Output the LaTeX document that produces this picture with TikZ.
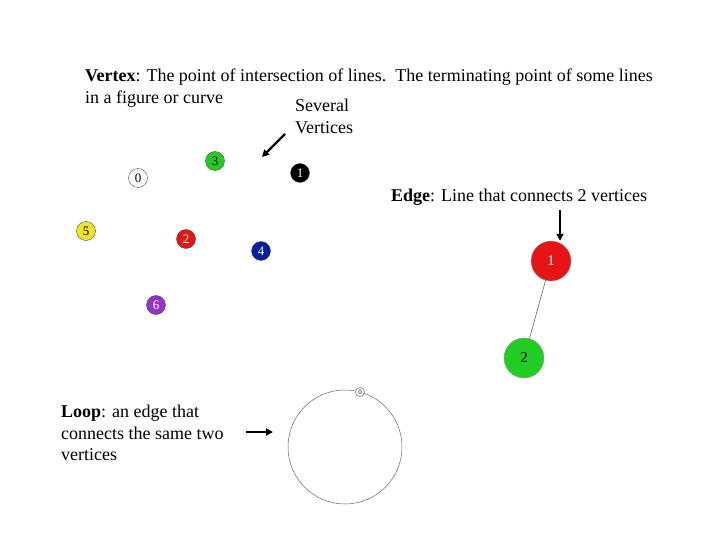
\documentclass[tikz,border=0pt]{standalone}
\usepackage{fontspec}
\setmainfont{Liberation Serif}
\usepackage{tikz}
\usetikzlibrary{arrows.meta,positioning}
\definecolor{vgreen}{RGB}{34, 204, 34}
\definecolor{vred}{RGB}{230, 20, 20}
\definecolor{vblue}{RGB}{10, 30, 160}
\definecolor{vyellow}{RGB}{240, 230, 40}
\definecolor{vpurple}{RGB}{150, 50, 200}
\tikzset{
  txt/.style={anchor=base west, inner sep=0pt, font=\fontsize{18}{22}\selectfont},
  dot/.style={circle, draw=black!70, line width=0.4pt, minimum size=19pt, inner sep=0pt, font=\fontsize{13}{13}\selectfont},
  bigdot/.style={circle, draw=black!40, line width=0.4pt, minimum size=40pt, inner sep=0pt, font=\fontsize{15}{15}\selectfont},
  pointer/.style={-{Triangle[length=7pt,width=7pt]}, line width=2.2pt}
}
\begin{document}
\begin{tikzpicture}[x=1pt, y=-1pt]
        \useasboundingbox (0,0) rectangle (720,540);
        % Vertex definition
        \node[txt] (vdef1) at (85, 82) {\textbf{Vertex}: The point of intersection of lines.\ \ The terminating point of some lines};
        \node[txt] (vdef2) at (85, 104) {in a figure or curve};
        \node[txt] (several) at (295, 112) {Several};
        \node[txt] (vertices) at (295, 134) {Vertices};
        \coordinate (sevtail) at (285, 134);
        \coordinate (sevtip) at (262, 157);
        \draw[pointer] (sevtail) -- (sevtip);

        % Several vertices
        \node[dot, fill=white] (v0) at (138, 178) {0};
        \node[dot, fill=vgreen] (v3) at (215, 161) {3};
        \node[dot, fill=black, text=white] (v1) at (300, 173) {1};
        \node[dot, fill=vyellow] (v5) at (86, 231) {5};
        \node[dot, fill=vred, text=white] (v2) at (186, 239) {2};
        \node[dot, fill=vblue, text=white] (v4) at (261, 251) {4};
        \node[dot, fill=vpurple, text=white] (v6) at (156, 305) {6};

        % Edge definition
        \node[txt] (edef) at (391, 202) {\textbf{Edge}: Line that connects 2 vertices};
        \node[bigdot, fill=vred, text=white] (e1) at (551, 261) {1};
        \node[bigdot, fill=vgreen] (e2) at (524, 358) {2};
        \draw[black!60, line width=0.6pt] (e1) -- (e2);
        \coordinate (edgetail) at (560, 210);
        \draw[pointer] (edgetail) -- (e1.north -| edgetail);

        % Loop definition
        \node[txt] (ldef1) at (61, 417) {\textbf{Loop}: an edge that};
        \node[txt] (ldef2) at (61, 439) {connects the same two};
        \node[txt] (ldef3) at (61, 460) {vertices};
        \coordinate (looptail) at (246, 432);
        \coordinate (looptip) at (273, 432);
        \draw[pointer] (looptail) -- (looptip);
        \coordinate (loopc) at (345, 447);
        \draw[black!60, line width=0.5pt] (loopc) circle[radius=57];
        \node[circle, draw=black!60, line width=0.5pt, minimum size=9pt, inner sep=0pt, font=\fontsize{7}{7}\selectfont, fill=white] (l0) at (360, 392) {0};
\end{tikzpicture}
\end{document}
